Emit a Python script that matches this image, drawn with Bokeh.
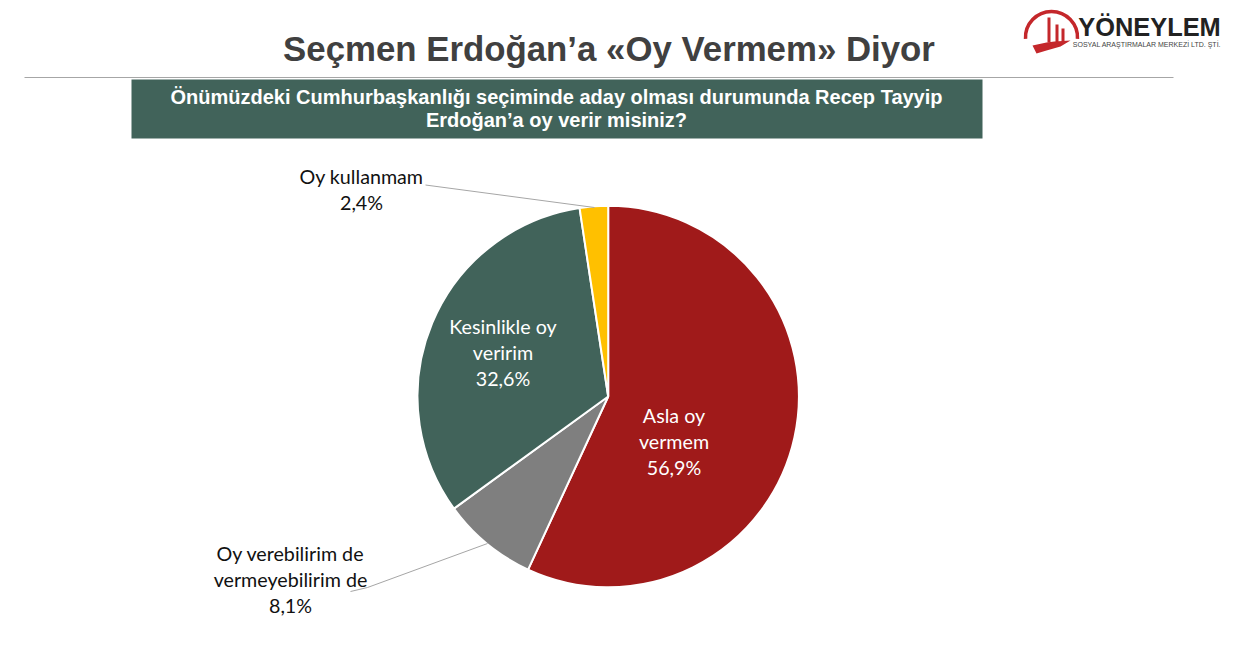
import numpy as np
from bokeh.plotting import figure
from bokeh.embed import file_html
from bokeh.resources import INLINE
from bokeh.models import Range1d
from bokeh.core.properties import value

categories = ["Asla oy vermem", "Oy verebilirim de vermeyebilirim de", "Kesinlikle oy veririm", "Oy kullanmam"]
values = [56.9, 8.1, 32.6, 2.4]
value_labels = ["56,9%", "8,1%", "32,6%", "2,4%"]
slice_colors = ["#A01A1A", "#7F7F7F", "#41635A", "#FFC000"]

TITLE = "Seçmen Erdoğan’a «Oy Vermem» Diyor"
QUESTION = ["Önümüzdeki Cumhurbaşkanlığı seçiminde aday olması durumunda Recep Tayyip", "Erdoğan’a oy verir misiniz?"]

W, H = 1234, 651
def Y(py):
    return H - np.asarray(py, dtype=float)

p = figure(width=W, height=H, output_backend="svg", toolbar_location=None,
           x_range=Range1d(0, W), y_range=Range1d(0, H), min_border=0)
p.axis.visible = False
p.grid.visible = False
p.outline_line_color = None
p.background_fill_color = "white"

# header
def txt(x, py, s, size, color="#000000", font="Lato", style="normal", align="center"):
    p.text([x], [float(Y(py))], text=[s], text_font=value(font), text_font_size=f"{size}px", text_color=color,
           text_font_style=style, text_align=align, text_baseline="middle")

txt(608.5, 47.5, TITLE, 34.8, "#404040", "Liberation Sans", "bold")
p.line([24, 1173], Y([77, 77]), line_color="#A6A6A6", line_width=1)
p.quad(left=[131], right=[982], top=[float(Y(79))], bottom=[float(Y(138))], fill_color="#41635A", line_color=None)
txt(556, 96.5, QUESTION[0], 20, "#FFFFFF", "Liberation Sans", "bold")
txt(556, 119.5, QUESTION[1], 20, "#FFFFFF", "Liberation Sans", "bold")

# pie: clockwise from twelve o'clock
cx, cy, r = 607.7, 396, 190.7
v = np.array(values, dtype=float)
edges = np.pi / 2 - 2 * np.pi * np.concatenate([[0], np.cumsum(v)]) / v.sum()
p.wedge(x=[cx] * len(v), y=[float(Y(cy))] * len(v), radius=r, radius_units="data",
        start_angle=edges[1:], end_angle=edges[:-1], direction="anticlock",
        fill_color=slice_colors, line_color="#FFFFFF", line_width=2)

# leader lines
p.line([425, 594], Y([184.5, 207]), line_color="#A6A6A6", line_width=1)
p.line([487, 367, 350], Y([543, 587, 591]), line_color="#A6A6A6", line_width=1)

# labels
LF = 19.7
txt(673.5, 415, "Asla oy", LF, "#FFFFFF")
txt(673.5, 441, "vermem", LF, "#FFFFFF")
txt(673.5, 467, value_labels[0], LF, "#FFFFFF")
txt(502.5, 326, "Kesinlikle oy", LF, "#FFFFFF")
txt(502.5, 352, "veririm", LF, "#FFFFFF")
txt(502.5, 378, value_labels[2], LF, "#FFFFFF")
txt(361, 175.5, categories[3], LF, "#111111")
txt(361, 202, value_labels[3], LF, "#111111")
txt(290, 553, "Oy verebilirim de", LF, "#111111")
txt(290, 579, "vermeyebilirim de", LF, "#111111")
txt(290, 605, value_labels[1], LF, "#111111")

# logo
LR = "#C4272B"
p.arc(x=[1051], y=[float(Y(37))], radius=26, start_angle=-0.05, end_angle=np.pi + 0.05,
      line_color=LR, line_width=3.5)
for x0, x1, top in [(1047, 1050, 17), (1055, 1058, 24), (1061, 1064, 28)]:
    p.quad(left=[x0], right=[x1], top=[float(Y(top))], bottom=[float(Y(42))], fill_color=LR, line_color=None)
p.patch([1032, 1046, 1054, 1070, 1060, 1046, 1036], Y([45, 42, 41, 40, 46, 50, 53]), fill_color=LR, line_color=None)
txt(1149, 26, "YÖNEYLEM", 25.4, "#222222", "Liberation Sans", "bold")
txt(1146.5, 44, "SOSYAL ARAŞTIRMALAR MERKEZİ LTD. ŞTİ.", 7, "#444444", "Liberation Sans")

open("out.html", "w").write(file_html(p, INLINE))
